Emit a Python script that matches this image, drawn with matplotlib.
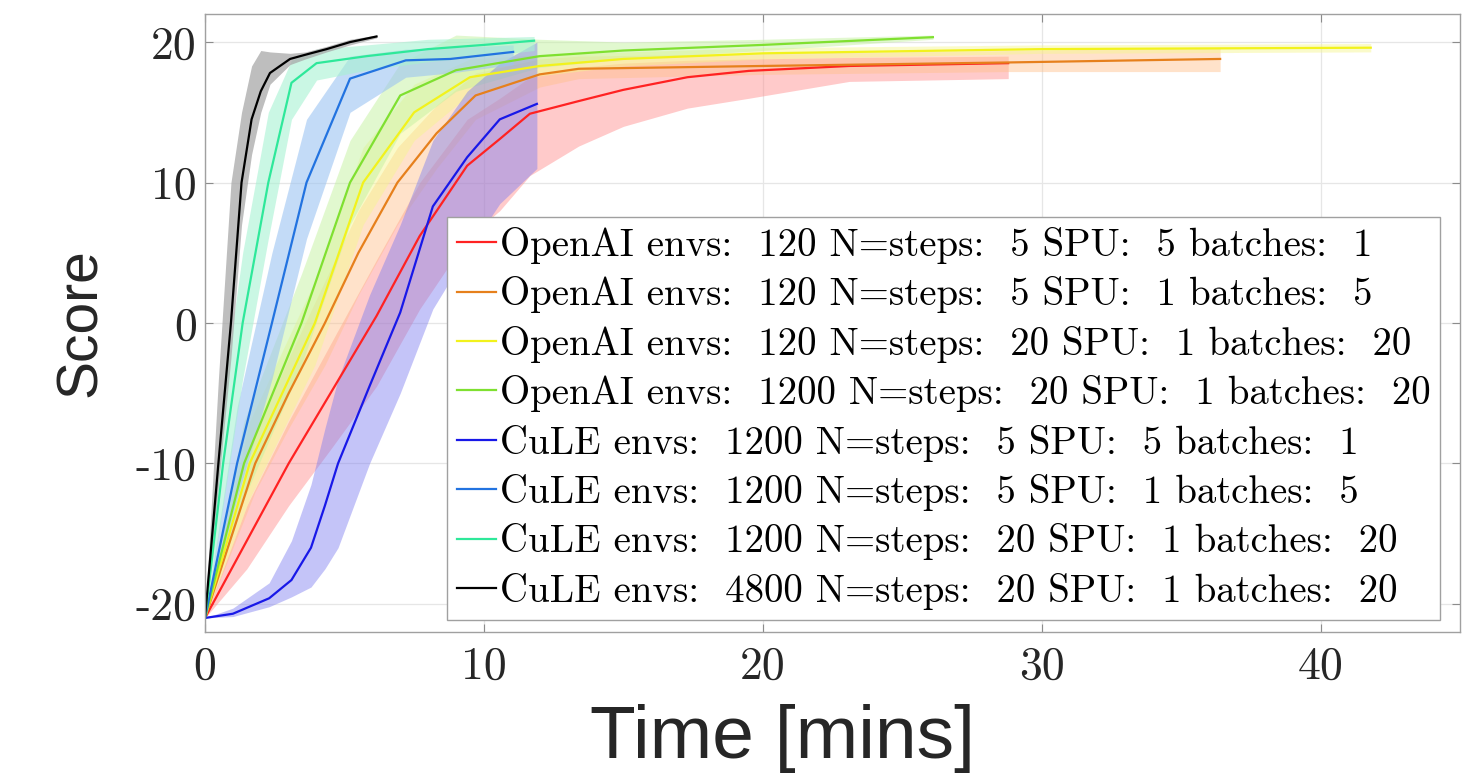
import matplotlib
matplotlib.use("Agg")
from matplotlib import pyplot as plt
from matplotlib.ticker import FuncFormatter

# time [mins] / score samples
red_t = [0, 1.5, 3.0, 4.5, 6.15, 7.7, 9.4, 10.57, 11.65, 13.4, 15.0, 17.3, 19.5, 23.1, 28.8]
red_mean = [-21, -15.5, -10, -5, 0.5, 6.2, 11.2, 13.1, 14.9, 15.8, 16.6, 17.5, 17.95, 18.3, 18.5]
red_lo = [-21, -17.5, -13, -9, -4.5, 1, 6, 8, 10.5, 12.6, 14.0, 15.3, 16.0, 17.2, 17.4]
red_hi = [-21, -13, -7, -1.5, 4.5, 10, 14.5, 16.0, 17.5, 18.2, 18.5, 18.7, 18.8, 18.9, 19.0]

orange_t = [0, 1.8, 3.0, 4.3, 5.5, 6.9, 8.3, 9.7, 12.0, 13.4, 20.0, 28.8, 36.4]
orange_mean = [-21, -10, -5, 0, 5, 10, 13.5, 16.2, 17.7, 18.1, 18.3, 18.55, 18.8]
orange_lo = [-21, -12, -7.5, -3, 2, 7, 11, 14.5, 16.8, 17.4, 17.7, 17.9, 17.9]
orange_hi = [-21, -8, -2.5, 3, 8, 12.5, 15.5, 17.8, 18.8, 19.0, 19.2, 19.4, 19.6]

yellow_t = [0, 1.6, 3.94, 5.67, 7.5, 9.5, 12, 15, 20, 30, 41.8]
yellow_mean = [-21, -10, 0, 10, 15, 17.5, 18.3, 18.8, 19.2, 19.5, 19.6]
yellow_lo = [-21, -12.5, -3, 7, 13, 16.3, 17.6, 18.3, 18.8, 19.2, 19.3]
yellow_hi = [-21, -7, 3, 12.5, 17, 18.8, 19.1, 19.3, 19.6, 19.8, 19.9]

lime_t = [0, 1.4, 3.46, 5.2, 7.0, 9.0, 12, 15, 20, 26.1]
lime_mean = [-21, -10, 0, 10, 16.2, 18.0, 19.0, 19.4, 19.8, 20.35]
lime_lo = [-21, -12.5, -3, 7, 13.5, 16.5, 18.2, 18.8, 19.4, 20.2]
lime_hi = [-21, -7, 3.5, 13, 18.5, 20.5, 20.2, 20.0, 20.2, 20.5]

blue_t = [0, 1.0, 2.3, 3.1, 3.8, 4.3, 4.77, 5.9, 7.0, 8.17, 9.4, 10.57, 11.9]
blue_mean = [-21, -20.7, -19.6, -18.3, -16, -13, -10, -4.5, 0.75, 8.3, 11.8, 14.5, 15.6]
blue_lo = [-21, -20.9, -20.2, -19.5, -18.8, -17.5, -16, -10, -5, 1, 5, 8.5, 11]
blue_hi = [-21, -20.3, -18.5, -15.5, -11.5, -7.5, -4, 2, 7, 13, 16.5, 18.5, 20.0]

dodger_t = [0, 1.15, 2.4, 3.64, 5.2, 7.2, 8.8, 11.05]
dodger_mean = [-21, -10, 0, 10, 17.4, 18.7, 18.8, 19.3]
dodger_lo = [-21, -12.5, -4, 6, 15, 17.5, 17.8, 18.4]
dodger_hi = [-21, -6, 5, 14.5, 19.0, 19.5, 19.6, 19.8]

spring_t = [0, 0.65, 1.35, 2.27, 3.1, 4.0, 5.8, 8.0, 10.0, 11.8]
spring_mean = [-21, -10, 0, 10, 17.1, 18.5, 19.0, 19.5, 19.8, 20.1]
spring_lo = [-21, -13, -4, 6, 14.5, 17.3, 18.0, 18.6, 19.0, 19.4]
spring_hi = [-21, -5, 5, 15, 18.7, 19.5, 19.8, 20.2, 20.3, 20.4]

black_t = [0, 0.48, 0.93, 1.31, 1.67, 2.0, 2.33, 3.05, 3.6, 4.36, 5.2, 6.15]
black_mean = [-21, -10, 0, 10, 14.5, 16.5, 17.8, 18.8, 19.1, 19.5, 20.0, 20.4]
black_lo = [-21, -11.5, -2.5, 7, 12, 15, 17, 18.4, 18.8, 19.3, 19.8, 20.3]
black_hi = [-21, -4, 10, 15, 18.3, 19.4, 19.3, 19.2, 19.3, 19.7, 20.2, 20.5]

labels = [
    "OpenAI envs:  120 N=steps:  5 SPU:  5 batches:  1",
    "OpenAI envs:  120 N=steps:  5 SPU:  1 batches:  5",
    "OpenAI envs:  120 N=steps:  20 SPU:  1 batches:  20",
    "OpenAI envs:  1200 N=steps:  20 SPU:  1 batches:  20",
    "CuLE envs:  1200 N=steps:  5 SPU:  5 batches:  1",
    "CuLE envs:  1200 N=steps:  5 SPU:  1 batches:  5",
    "CuLE envs:  1200 N=steps:  20 SPU:  1 batches:  20",
    "CuLE envs:  4800 N=steps:  20 SPU:  1 batches:  20",
]

series = [
    (red_t, red_mean, red_lo, red_hi, "#ff2222", "#ff8a8a", 0.45),
    (orange_t, orange_mean, orange_lo, orange_hi, "#e6801c", "#ffc08a", 0.45),
    (yellow_t, yellow_mean, yellow_lo, yellow_hi, "#f2f21c", "#f6f68a", 0.45),
    (lime_t, lime_mean, lime_lo, lime_hi, "#7fe030", "#c4f2a0", 0.5),
    (blue_t, blue_mean, blue_lo, blue_hi, "#1818e8", "#7d7df0", 0.45),
    (dodger_t, dodger_mean, dodger_lo, dodger_hi, "#2273e0", "#9cc4f2", 0.6),
    (spring_t, spring_mean, spring_lo, spring_hi, "#2ee89a", "#a8f2d2", 0.6),
    (black_t, black_mean, black_lo, black_hi, "#000000", "#a8a8a8", 0.75),
]

# cmr10 ships with matplotlib, gives the LaTeX look of the original
plt.rcParams["axes.unicode_minus"] = False

fig = plt.figure(figsize=(14.81, 7.83), dpi=100)
ax = fig.add_axes([205 / 1481, 1 - 632 / 783, 1255 / 1481, 618 / 783])

for t, m, lo, hi, c, fc, a in series:
    ax.fill_between(t, lo, hi, color=fc, alpha=a, linewidth=0)

handles = []
for (t, m, lo, hi, c, fc, a), lab in zip(series, labels):
    (h,) = ax.plot(t, m, color=c, linewidth=1.6, label=lab)
    handles.append(h)

ax.set_xlim(0, 45)
ax.set_ylim(-22, 22)
ax.set_xticks([0, 10, 20, 30, 40])
ax.set_yticks([-20, -10, 0, 10, 20])
ax.xaxis.set_major_formatter(FuncFormatter(lambda v, p: "%d" % v))
ax.yaxis.set_major_formatter(FuncFormatter(lambda v, p: "%d" % v))
for lbl in ax.get_xticklabels() + ax.get_yticklabels():
    lbl.set_family("cmr10")
ax.grid(True, color="#e6e6e6", linewidth=0.9)
ax.set_axisbelow(True)
ax.tick_params(direction="in", length=6, width=0.8, color="#8c8c8c",
               labelsize=33, labelcolor="#262626", top=True, right=True)
ax.tick_params(axis="y", pad=6)
ax.tick_params(axis="x", pad=10)
for sp in ax.spines.values():
    sp.set_color("#a0a0a0")
    sp.set_linewidth(1.0)

ax.set_xlabel("Time [mins]", fontsize=54, family="Liberation Sans", color="#262626")
ax.xaxis.set_label_coords((782 - 205) / 1255, -72 / 618)
ax.set_ylabel("Score", fontsize=41, family="Liberation Sans", color="#262626")
ax.yaxis.set_label_coords((108 - 205) / 1255, 0.5)

leg = ax.legend(handles=handles, loc="upper left", bbox_to_anchor=(0.193, 0.6715),
                prop={"family": "cmr10", "size": 28}, handlelength=1.0,
                handletextpad=0.1, labelspacing=0.32, borderpad=0.25,
                borderaxespad=0, fancybox=False, framealpha=1, edgecolor="#a0a0a0")
leg.get_frame().set_linewidth(1.0)

fig.savefig("out.png", dpi=100)
